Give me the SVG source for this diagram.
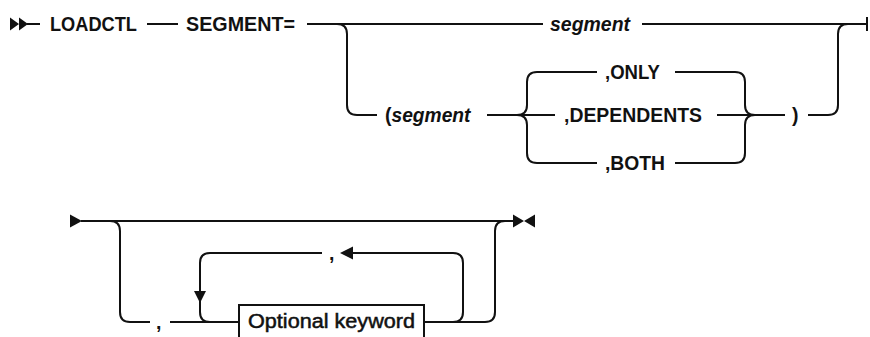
<svg xmlns="http://www.w3.org/2000/svg" width="870" height="337" viewBox="0 0 870 337">
<style>
  .ln { fill: none; stroke: #111; stroke-width: 2; }
  .kw { font-family: "Liberation Sans", Arial, sans-serif; font-size: 19.5px; font-weight: bold; fill: #111; }
  .var { font-family: "Liberation Sans", Arial, sans-serif; font-size: 19.5px; font-weight: bold; font-style: italic; fill: #111; }
  .opt { font-family: "Liberation Sans", Arial, sans-serif; font-size: 19.5px; font-weight: normal; fill: #111; stroke: #111; stroke-width: 0.5; }
  .box { fill: #fff; stroke: #111; stroke-width: 2; }
  .ah { fill: #111; stroke: none; }
</style>
<rect width="870" height="337" fill="#fff"/>

<g id="connectors">
  <path class="ah" d="M10,17.5 L19,24 L10,30.5 Z M19,17.5 L28,24 L19,30.5 Z"/>
  <path class="ln" d="M27,24 H40"/>
  <path class="ln" d="M147,24 H178"/>
  <path class="ln" d="M307,24 H543"/>
  <path class="ln" d="M337,24 Q347,24 347,34 V105 Q347,115 357,115 H377"/>
  <path class="ln" d="M642,24 H867"/>
  <path class="ln" d="M867,17 V31"/>
  <path class="ln" d="M808,115 H828 Q838,115 838,105 V34 Q838,24 848,24"/>
  <path class="ln" d="M487,115 H555"/>
  <path class="ln" d="M517,115 Q527,115 527,105 V82 Q527,72 537,72 H597"/>
  <path class="ln" d="M517,115 Q527,115 527,125 V153 Q527,163 537,163 H597"/>
  <path class="ln" d="M675,72 H735 Q745,72 745,82 V105 Q745,115 755,115"/>
  <path class="ln" d="M675,163 H735 Q745,163 745,153 V125 Q745,115 755,115"/>
  <path class="ln" d="M717,115 H785"/>
  <path class="ah" d="M70,214.5 L82,221 L70,227.5 Z"/>
  <path class="ln" d="M81,221 H514"/>
  <path class="ln" d="M110,221 Q120,221 120,231 V312 Q120,322 130,322 H150"/>
  <path class="ln" d="M170,322 H239"/>
  <path class="ln" d="M210,322 Q200,322 200,312 V263 Q200,253 210,253 H322"/>
  <path class="ah" d="M194,291 L206,291 L200,303 Z"/>
  <path class="ah" d="M340,253 L353,246.5 L353,259.5 Z"/>
  <path class="ln" d="M352,253 H453 Q463,253 463,263 V312 Q463,322 453,322 H424"/>
  <path class="ln" d="M424,322 H485 Q495,322 495,312 V231 Q495,221 505,221"/>
  <path class="ah" d="M513,214.5 L524,221 L513,227.5 Z M535,214.5 L524,221 L535,227.5 Z"/>
</g>

<g id="n-loadctl"><text class="kw" x="50" y="31" textLength="87" lengthAdjust="spacingAndGlyphs">LOADCTL</text></g>
<g id="n-segment-eq"><text class="kw" x="186" y="31" textLength="109" lengthAdjust="spacingAndGlyphs">SEGMENT=</text></g>
<g id="n-segment"><text class="var" x="550" y="31" textLength="80" lengthAdjust="spacingAndGlyphs">segment</text></g>
<g id="n-paren-segment"><text class="kw" x="385" y="122">(<tspan class="var" textLength="79" lengthAdjust="spacingAndGlyphs">segment</tspan></text></g>
<g id="n-only"><text class="kw" x="605" y="79" textLength="55" lengthAdjust="spacingAndGlyphs">,ONLY</text></g>
<g id="n-dependents"><text class="kw" x="564" y="122" textLength="138" lengthAdjust="spacingAndGlyphs">,DEPENDENTS</text></g>
<g id="n-both"><text class="kw" x="605" y="170" textLength="60" lengthAdjust="spacingAndGlyphs">,BOTH</text></g>
<g id="n-close-paren"><text class="kw" x="792" y="122">)</text></g>
<g id="n-comma1"><text class="kw" x="156" y="329">,</text></g>
<g id="n-comma2"><text class="kw" x="329" y="260">,</text></g>
<g id="n-optional-keyword">
  <rect class="box" x="239" y="305" width="185" height="40"/>
  <text class="opt" x="248" y="328" textLength="167" lengthAdjust="spacingAndGlyphs">Optional keyword</text>
</g>
</svg>
